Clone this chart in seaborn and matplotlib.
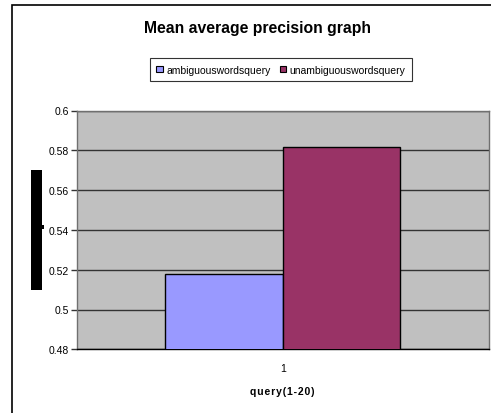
import matplotlib
matplotlib.use("Agg")
import matplotlib.pyplot as plt
import seaborn as sns
import pandas as pd
from matplotlib.patches import Rectangle, Patch

categories = ["1"]
series_names = ["ambiguouswordsquery", "unambiguouswordsquery"]
ambiguous = [0.5178]
unambiguous = [0.5815]
yticks = [0.48, 0.5, 0.52, 0.54, 0.56, 0.58, 0.6]
ytick_labels = ["0.48", "0.5", "0.52", "0.54", "0.56", "0.58", "0.6"]
title = "Mean average precision graph"
xlabel = "query(1-20)"
colors = ["#9999FF", "#993366"]

df = pd.DataFrame({
    "query": categories * 2,
    "series": [series_names[0]] * len(categories) + [series_names[1]] * len(categories),
    "value": ambiguous + unambiguous,
})

sns.set_theme(style="white")
plt.rcParams["font.family"] = ["Liberation Sans", "DejaVu Sans"]
plt.rcParams["text.color"] = "black"
plt.rcParams["xtick.color"] = "black"
plt.rcParams["ytick.color"] = "black"
plt.rcParams["axes.labelcolor"] = "black"

W, H = 491, 414
fig = plt.figure(figsize=(W / 100, H / 100), dpi=100)
ax = fig.add_axes([77 / W, 1 - 350.3 / H, (488.5 - 77) / W, (350.3 - 111.5) / H])
ax.set_facecolor("#C0C0C0")

sns.barplot(data=df, x="query", y="value", hue="series", palette=colors,
            width=0.57, gap=0, edgecolor="black", linewidth=1.0,
            saturation=1, ax=ax, legend=False, zorder=3)

ax.set_xlim(-0.5, 0.5)
ax.set_ylim(0.48, 0.6)
ax.set_yticks(yticks)
ax.set_yticklabels(ytick_labels, fontsize=7.5)
ax.yaxis.grid(True, color="#333333", linewidth=1.0, zorder=1)
ax.set_axisbelow(True)
ax.tick_params(axis="y", direction="out", length=4, width=1, color="#333333", pad=2, left=True)
ax.tick_params(axis="x", direction="out", length=0, labelsize=7.5, pad=10)
spaced = "\u200a".join(xlabel)
ax.set_xlabel(spaced, fontsize=7.5, fontweight="bold", labelpad=9)
ax.set_ylabel("")
for s in ["left", "top", "right"]:
    ax.spines[s].set_color("#707070")
    ax.spines[s].set_linewidth(1.0)
ax.spines["bottom"].set_color("black")
ax.spines["bottom"].set_linewidth(1.0)
# category boundary tick at right end
ax.set_xticks([0.5], minor=True)
ax.tick_params(axis="x", which="minor", direction="out", length=4, width=1, color="black")

# Title
fig.text(258 / W, 1 - 28 / H, title, ha="center", va="center",
         fontsize=11.3, fontweight="bold")

# Legend
handles = [Patch(facecolor=c, edgecolor="black", linewidth=0.8) for c in colors]
leg = fig.legend(handles, series_names, loc="center", bbox_to_anchor=(281 / W, 1 - 70.5 / H),
                 ncol=2, fontsize=7.5, frameon=True, fancybox=False, edgecolor="black",
                 handlelength=0.6, handleheight=0.6, handletextpad=0.35, columnspacing=0.9,
                 borderpad=0.6, borderaxespad=0)
leg.get_frame().set_linewidth(0.8)

# Outer chart frame (right and bottom edges lie beyond the image)
fig.patches.append(Rectangle((12 / W, -0.05), 1.2, 1 - 6 / H + 0.05, transform=fig.transFigure,
                             fill=False, edgecolor="black", linewidth=1.2))
# Black redaction block on the left
fig.patches.append(Rectangle((31 / W, 1 - 291 / H), 11 / W, 120 / H, transform=fig.transFigure,
                             facecolor="black", edgecolor="none"))
fig.patches.append(Rectangle((42 / W, 1 - 230 / H), 1.5 / W, 4 / H, transform=fig.transFigure,
                             facecolor="black", edgecolor="none"))

fig.savefig("out.png", dpi=100)
